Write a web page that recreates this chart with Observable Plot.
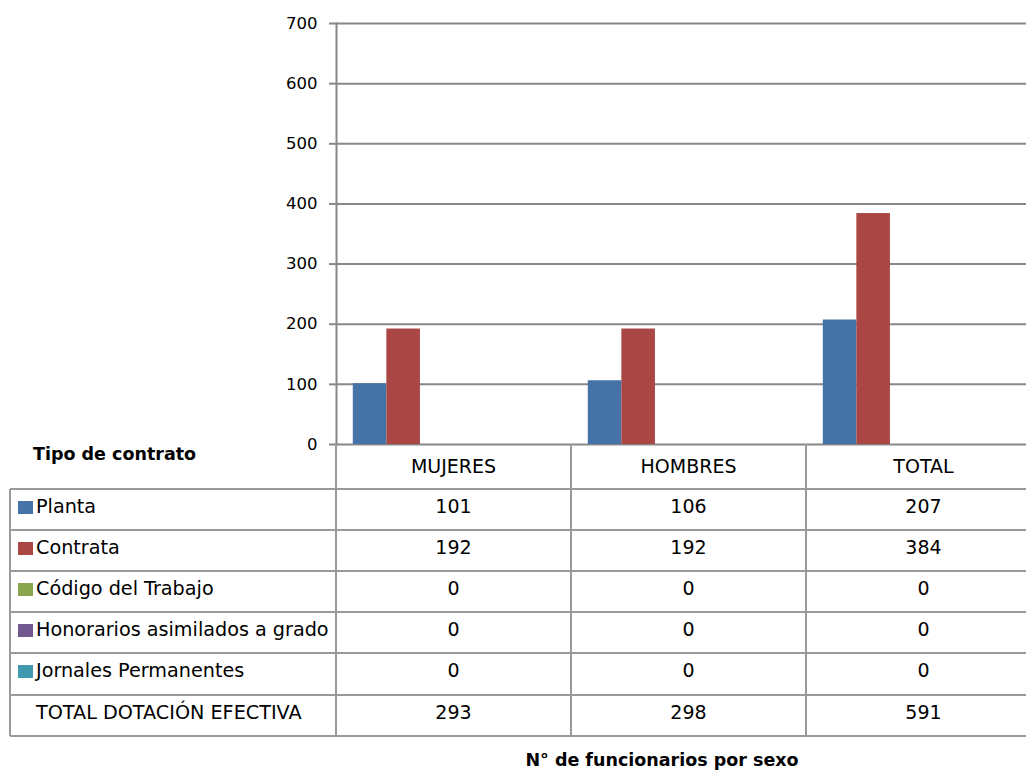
<!DOCTYPE html>
<html><head><meta charset="utf-8">
<script src="https://cdn.jsdelivr.net/npm/d3@7"></script>
<script src="https://cdn.jsdelivr.net/npm/@observablehq/plot@0.6"></script>
<style>
html,body{margin:0;padding:0;background:#fff;overflow:hidden;}
#wrap{position:relative;width:1026px;height:770px;overflow:hidden;font-family:"DejaVu Sans",sans-serif;background:#fff;}
#wrap svg{max-width:none;position:absolute;left:0;top:0;}
.t{position:absolute;white-space:nowrap;color:#000;}
.ln{position:absolute;background:#9a9a9a;}
.key{position:absolute;}
</style></head><body><div id="wrap"></div>
<script>
// ---- data ----
const categories = ["MUJERES", "HOMBRES", "TOTAL"];
const seriesNames = ["Planta", "Contrata", "Código del Trabajo", "Honorarios asimilados a grado", "Jornales Permanentes", "TOTAL DOTACIÓN EFECTIVA"];
const planta = [101, 106, 207];
const contrata = [192, 192, 384];
const codigo = [0, 0, 0];
const honorarios = [0, 0, 0];
const jornales = [0, 0, 0];
const totalDotacion = [293, 298, 591];
const yTicks = [0, 100, 200, 300, 400, 500, 600, 700];
const seriesColors = ["#4572A7", "#AA4643", "#89A54E", "#71588F", "#4198AF"];
const tableTitle = "Tipo de contrato";
const axisTitle = "N° de funcionarios por sexo";

const seriesValues = [planta, contrata, codigo, honorarios, jornales, totalDotacion];
const rows = seriesNames.flatMap((s, i) => categories.map((c, j) => ({series: s, category: c, value: seriesValues[i][j]})));
const barRows = rows.filter(d => d.series !== seriesNames[5]);

const grid = "#878787";
const chart = Plot.plot({
  width: 1041, height: 452,
  marginLeft: 336, marginRight: 0, marginTop: 23, marginBottom: 8,
  style: {fontFamily: "DejaVu Sans", fontSize: "16px", background: "transparent", overflow: "visible"},
  fx: {domain: categories, padding: 0, axis: null, round: false},
  x: {domain: seriesNames, paddingInner: 0, paddingOuter: 0.5, axis: null, round: false},
  y: {domain: [0, 700], axis: null},
  color: {domain: seriesNames.slice(0, 5), range: seriesColors},
  marks: [
    Plot.gridY(yTicks, {stroke: grid, strokeOpacity: 1, strokeWidth: 2}),
    Plot.barY(barRows, {fx: "category", x: "series", y: "value", fill: "series"}),
    Plot.axisY(yTicks, {tickSize: 7, tickPadding: 12, color: "#000", stroke: grid, strokeWidth: 2, fontSize: 16.5, label: null, facetAnchor: "left"}),
    Plot.frame({anchor: "left", stroke: grid, strokeWidth: 2, facetAnchor: "left"})
  ]
});
const wrap = document.getElementById("wrap");
wrap.appendChild(chart);

// ---- data table below the plot, aligned on the fx scale ----
const fx = chart.scale("fx"), ys = chart.scale("y");
const bw = fx.bandwidth;
const y0 = ys.apply(0);
const tableLeft = 10, headerH = 45, rowH = 41.1, lw = 2;
const firstCol = fx.apply(categories[0]);
const lastRight = fx.apply(categories[categories.length - 1]) + bw;
const top0 = y0 + headerH;
const bottom = top0 + rowH * seriesNames.length;

function line(x, y, w, h) {
  const d = document.createElement("div");
  d.className = "ln";
  Object.assign(d.style, {left: x + "px", top: y + "px", width: w + "px", height: h + "px"});
  wrap.appendChild(d);
}
function text(str, cx, cy, opts = {}) {
  const d = document.createElement("div");
  d.className = "t";
  const fs = opts.size || 19, lh = Math.round(fs * 1.3);
  d.textContent = str;
  Object.assign(d.style, {fontSize: fs + "px", lineHeight: lh + "px", height: lh + "px", top: (cy - lh / 2) + "px", fontWeight: opts.bold ? "bold" : "normal"});
  if (opts.anchor === "middle") { d.style.left = (cx - 300) + "px"; d.style.width = "600px"; d.style.textAlign = "center"; }
  else d.style.left = cx + "px";
  wrap.appendChild(d);
}

for (let k = 0; k <= seriesNames.length; k++) line(tableLeft, top0 + k * rowH - lw / 2, lastRight - tableLeft, lw);
line(tableLeft - lw / 2, top0, lw, bottom - top0);
line(firstCol - lw / 2, y0, lw, bottom - y0);
categories.forEach(c => line(fx.apply(c) + bw - lw / 2, y0, lw, bottom - y0));

text(tableTitle, 33, y0 + 10, {bold: true, size: 17.5});
categories.forEach(c => text(c, fx.apply(c) + bw / 2, y0 + headerH / 2, {anchor: "middle"}));
seriesNames.forEach((s, i) => {
  const cy = top0 + rowH * i + rowH / 2 - 3;
  if (i < 5) {
    const k = document.createElement("div");
    k.className = "key";
    Object.assign(k.style, {left: "18px", top: (cy - 6) + "px", width: "15px", height: "13px", background: seriesColors[i]});
    wrap.appendChild(k);
  }
  text(s, 36, cy, {size: 19.2});
  categories.forEach((c, j) => text(String(seriesValues[i][j]), fx.apply(c) + bw / 2, cy, {anchor: "middle"}));
});
text(axisTitle, 662, 760, {bold: true, size: 17.5, anchor: "middle"});
</script></body></html>
